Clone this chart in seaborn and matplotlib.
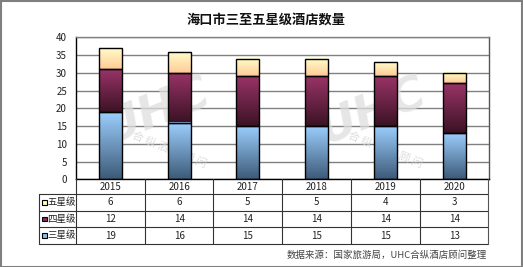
import numpy as np
import matplotlib
matplotlib.use("Agg")
import matplotlib.pyplot as plt
import seaborn as sns
from matplotlib.colors import LinearSegmentedColormap
from matplotlib.patches import Rectangle
from matplotlib.lines import Line2D

# ---------------- data ----------------
years = ["2015", "2016", "2017", "2018", "2019", "2020"]
three_star = [19, 16, 15, 15, 15, 13]
four_star = [12, 14, 14, 14, 14, 14]
five_star = [6, 6, 5, 5, 4, 3]
series_names = ["三星级", "四星级", "五星级"]
y_ticks = [0, 5, 10, 15, 20, 25, 30, 35, 40]
title = "海口市三至五星级酒店数量"
source = "数据来源：国家旅游局，UHC合纵酒店顾问整理"

# ---------------- style ----------------
sns.set_theme(style="white")
plt.rcParams['font.family'] = ['Noto Sans CJK SC', 'DejaVu Sans']

# gradient colours (bottom, top) and legend swatch colour
grad = {
    "三星级": ("#3d5a78", "#9dd0ff"),
    "四星级": ("#3b1224", "#9a3468"),
    "五星级": ("#ffca96", "#ffffcc"),
}
swatch = {"三星级": "#8fbde6", "四星级": "#8a2a5a", "五星级": "#ffffc0"}

W, H = 523, 267
fig = plt.figure(figsize=(W / 100, H / 100), dpi=100)
fig.patch.set_facecolor("white")


def px(x0, y0, x1, y1):
    return [x0 / W, 1 - y1 / H, (x1 - x0) / W, (y1 - y0) / H]


AX_L, AX_T, AX_R, AX_B = 76, 37.3, 488.5, 179.3
ax = fig.add_axes(px(AX_L, AX_T, AX_R, AX_B))

series_vals = [three_star, four_star, five_star]
bottoms = np.zeros(len(years))
bar_w = 0.335
for name, vals in zip(series_names, series_vals):
    n_before = len(ax.patches)
    sns.barplot(x=years, y=vals, bottom=bottoms.copy(), width=bar_w, ax=ax,
                color=grad[name][1], edgecolor="black", linewidth=1.0,
                zorder=3)
    cmap = LinearSegmentedColormap.from_list(name, [grad[name][0], grad[name][1]])
    for p in ax.patches[n_before:]:
        x0, y0 = p.get_x(), p.get_y()
        w, h = p.get_width(), p.get_height()
        ax.imshow(np.linspace(0, 1, 256).reshape(-1, 1), cmap=cmap,
                  extent=(x0, x0 + w, y0, y0 + h), origin="lower",
                  aspect="auto", zorder=2.5, interpolation="bicubic")
        p.set_facecolor("none")
    bottoms = bottoms + np.array(vals)

ax.set_xlim(-0.5, len(years) - 0.5)
ax.set_ylim(0, 40)
ax.set_yticks(y_ticks)
ax.set_yticklabels([str(t) for t in y_ticks], fontsize=7, color="#222222")
ax.set_xticks([])
ax.set_xlabel("")
ax.set_ylabel("")
ax.tick_params(axis="y", length=0, pad=6.5)
ax.yaxis.grid(True, color="#808080", linewidth=1.0, zorder=0)
ax.set_axisbelow(True)
for s in ["left", "bottom"]:
    ax.spines[s].set_color("black")
    ax.spines[s].set_linewidth(1.0)
ax.spines["top"].set_color("#808080")
ax.spines["top"].set_linewidth(1.0)
ax.spines["right"].set_color("#555555")
ax.spines["right"].set_linewidth(1.0)
ax.set_facecolor("white")

# watermarks (two logos), behind the bars
for fx in (157, 373):
    ax.text(fx / W, 1 - 112 / H, "UHC", fontsize=34, fontweight="bold",
            fontstyle="italic", color="#dedede", alpha=0.75, ha="center",
            va="center", rotation=22, zorder=1, family="DejaVu Sans",
            transform=fig.transFigure)
    ax.text((fx + 12) / W, 1 - 150 / H, "合 纵 酒 店 顾 问", fontsize=8,
            color="#d4d4d4", alpha=0.8, ha="center", va="center",
            rotation=-22, zorder=1, transform=fig.transFigure)

# ---------------- table ----------------
TB_L, TB_T, TB_R, TB_B = 39.3, 179.3, 488.5, 244.0
tab = fig.add_axes(px(TB_L, TB_T, TB_R, TB_B))
col_w = (AX_R - AX_L) / len(years)
lab_w = (AX_L - TB_L) / col_w
tab.set_xlim(-0.5 - lab_w, len(years) - 0.5)
row_edges = [0, 14.7, 31.3, 48.0, 64.7]
tab.set_ylim(row_edges[-1], 0)
tab.axis("off")
lc = "#333333"
lw = 0.8
for yv in row_edges[1:]:
    tab.add_line(Line2D([-0.5 - lab_w, len(years) - 0.5], [yv, yv], color=lc, lw=lw,
                        clip_on=False))
for i in range(len(years) + 1):
    xv = i - 0.5
    tab.add_line(Line2D([xv, xv], [0, row_edges[-1]],
                        color=lc if i < len(years) else "#555555",
                        lw=lw, clip_on=False))
tab.add_line(Line2D([-0.5 - lab_w] * 2, [row_edges[1], row_edges[-1]], color=lc, lw=lw,
                    clip_on=False))
for i, yr in enumerate(years):
    tab.text(i, (row_edges[0] + row_edges[1]) / 2, yr, ha="center", va="center",
             fontsize=7, color="#222222")
rows = [("五星级", five_star), ("四星级", four_star), ("三星级", three_star)]
sw_w = 4.5 / col_w
for r, (name, vals) in enumerate(rows):
    yc = (row_edges[r + 1] + row_edges[r + 2]) / 2
    tab.add_patch(Rectangle((-0.5 - lab_w + 2.7 / col_w, yc - 2.3), sw_w, 4.6,
                            facecolor=swatch[name], edgecolor="black", lw=0.8,
                            clip_on=False))
    tab.text(-0.5 - lab_w + 8 / col_w, yc, name, ha="left", va="center",
             fontsize=6.8, color="#222222")
    for i, v in enumerate(vals):
        tab.text(i, yc, str(v), ha="center", va="center", fontsize=7, color="#222222")

# ---------------- titles ----------------
fig.text(266 / W, 1 - 20 / H, title, ha="center", va="center", fontsize=9.5,
         fontweight="bold", color="#111111")
fig.text(487 / W, 1 - 255 / H, source, ha="right", va="center", fontsize=6.8,
         color="#444444")

fig.add_artist(Rectangle((0.5 / W, 0.5 / H), 1 - 1.5 / W, 1 - 1.5 / H,
                         transform=fig.transFigure, fill=False,
                         edgecolor="#7f7f7f", lw=1.5))

fig.savefig("out.png", dpi=100)
